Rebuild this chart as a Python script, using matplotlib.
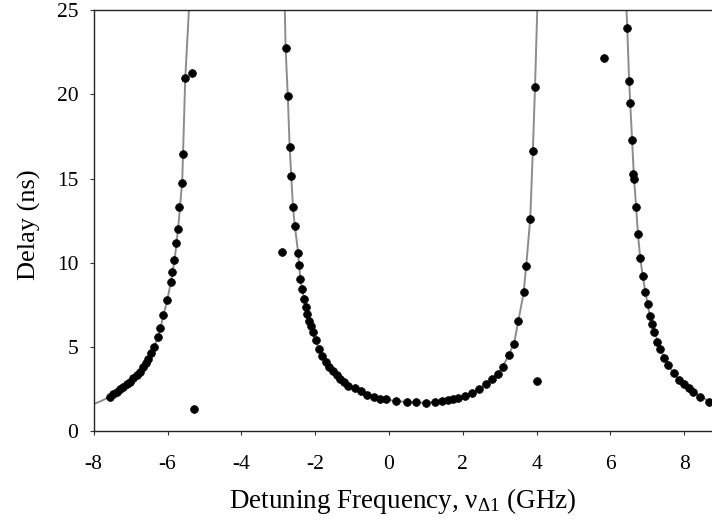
import matplotlib
matplotlib.use("Agg")
import matplotlib.pyplot as plt

plt.rcParams['font.family'] = ['Liberation Serif', 'DejaVu Serif']
plt.rcParams['mathtext.fontset'] = 'custom'
plt.rcParams['mathtext.rm'] = 'Liberation Serif'
plt.rcParams['mathtext.it'] = 'Liberation Serif:italic'
plt.rcParams['mathtext.default'] = 'rm'

# Measured delay points (GHz, ns)
meas_x = [-7.56, -7.47, -7.38, -7.29, -7.20, -7.11, -7.02, -6.93, -6.84, -6.75,
          -6.66, -6.58, -6.52, -6.45, -6.36, -6.27, -6.20, -6.11, -6.02, -5.91,
          -5.89, -5.82, -5.77, -5.72, -5.69, -5.60, -5.57, -5.52, -5.34, -5.28,
          -2.91, -2.80, -2.74, -2.69, -2.64, -2.60, -2.55, -2.46, -2.44, -2.40,
          -2.36, -2.31, -2.26, -2.21, -2.17, -2.12, -2.07, -1.98, -1.89, -1.81,
          -1.71, -1.62, -1.52, -1.42, -1.32, -1.22, -1.11, -0.93, -0.76, -0.59,
          -0.40, -0.24, -0.08, 0.20, 0.49, 0.74, 1.01, 1.24, 1.43, 1.61,
          1.75, 1.88, 2.06, 2.24, 2.44, 2.64, 2.80, 2.96, 3.08, 3.25,
          3.38, 3.51, 3.65, 3.72, 3.83, 3.91, 3.96, 4.02,
          5.82, 6.46, 6.51, 6.53, 6.59, 6.62, 6.64, 6.71, 6.75, 6.81,
          6.88, 6.95, 7.01, 7.07, 7.14, 7.19, 7.27, 7.36, 7.46, 7.56,
          7.73, 7.87, 8.00, 8.13, 8.25, 8.43, 8.68]
meas_y = [2.04, 2.20, 2.33, 2.47, 2.63, 2.77, 2.93, 3.13, 3.33, 3.52,
          3.78, 4.02, 4.26, 4.61, 5.01, 5.56, 6.10, 6.89, 7.78, 8.83,
          9.42, 10.15, 11.15, 11.98, 13.32, 14.74, 16.49, 20.98, 21.28, 1.29,
          10.65, 22.76, 19.89, 16.86, 15.16, 13.34, 12.21, 10.59, 9.86, 9.04,
          8.45, 7.86, 7.38, 6.93, 6.55, 6.25, 5.90, 5.39, 4.85, 4.45,
          4.12, 3.82, 3.56, 3.31, 3.09, 2.89, 2.69, 2.54, 2.36, 2.16,
          2.04, 1.90, 1.88, 1.78, 1.72, 1.70, 1.68, 1.74, 1.78, 1.84,
          1.90, 1.98, 2.08, 2.24, 2.48, 2.77, 3.09, 3.38, 3.82, 4.50,
          5.18, 6.51, 8.25, 9.80, 12.59, 16.63, 20.45, 2.97,
          22.17, 23.95, 20.80, 19.50, 17.28, 15.26, 15.00, 13.32, 11.70, 10.26,
          9.20, 8.27, 7.54, 6.85, 6.34, 5.90, 5.30, 4.87, 4.32, 3.92,
          3.43, 3.03, 2.79, 2.57, 2.32, 2.04, 1.74]

# Fitted curve (three branches)
fit1_x = [-8.0, -7.8, -7.56, -7.3, -7.0, -6.8, -6.6, -6.4, -6.25, -6.1,
          -6.0, -5.9, -5.8, -5.7, -5.6, -5.52, -5.42]
fit1_y = [1.60, 1.78, 2.04, 2.45, 2.95, 3.40, 3.95, 4.80, 5.60, 6.95,
          7.85, 8.95, 10.3, 12.3, 14.9, 20.9, 25.0]
fit2_x = [-2.82, -2.80, -2.74, -2.69, -2.60, -2.55, -2.46, -2.40, -2.30, -2.20,
          -2.10, -2.00, -1.80, -1.60, -1.40, -1.20, -1.00, -0.80, -0.60, -0.40,
          -0.20, 0.00, 0.20, 0.50, 1.00, 1.40, 1.80, 2.10, 2.40, 2.70,
          3.00, 3.25, 3.40, 3.50, 3.65, 3.72, 3.83, 3.90, 3.96, 4.02]
fit2_y = [25.0, 22.8, 19.9, 16.9, 13.3, 12.2, 10.6, 9.0, 7.85, 6.9,
          6.1, 5.45, 4.45, 3.78, 3.28, 2.86, 2.60, 2.40, 2.16, 2.04,
          1.90, 1.84, 1.78, 1.72, 1.68, 1.76, 1.94, 2.10, 2.42, 2.90,
          3.50, 4.50, 5.30, 6.45, 8.20, 9.80, 12.6, 16.6, 20.45, 25.0]
fit3_x = [6.44, 6.46, 6.51, 6.59, 6.64, 6.70, 6.75, 6.81, 6.88, 6.95,
          7.07, 7.20, 7.35, 7.55, 7.80, 8.00, 8.25, 8.50, 8.76]
fit3_y = [25.0, 23.95, 20.8, 17.3, 15.1, 13.3, 11.7, 10.3, 9.2, 8.27,
          6.85, 5.9, 4.87, 3.95, 3.2, 2.79, 2.32, 1.98, 1.68]

x_ticks = [-8, -6, -4, -2, 0, 2, 4, 6, 8]
y_ticks = [0, 5, 10, 15, 20, 25]

W, H = 712, 522
fig = plt.figure(figsize=(W / 100, H / 100), dpi=100)
left, right, top, bottom = 93.7, 712, 10.3, 431
ax = fig.add_axes([left / W, (H - bottom) / H, (right - left) / W, (bottom - top) / H])

line_color = '#8c8c8c'
for fx, fy in [(fit1_x, fit1_y), (fit2_x, fit2_y), (fit3_x, fit3_y)]:
    ax.plot(fx, fy, color=line_color, lw=1.4, zorder=2, clip_on=True)

ax.plot(meas_x, meas_y, 'o', color='black', ms=5.6, mec='black', mew=0.5,
        zorder=3, clip_on=True)

ax.set_xlim(-8, -8 + (right - left) / 36.9)
ax.set_ylim(0, 25)
ax.set_xticks(x_ticks)
ax.set_yticks(y_ticks)
ax.set_xticklabels([str(v) for v in x_ticks])
ax.set_yticklabels([str(v) for v in y_ticks])

for s in ['left', 'bottom', 'top']:
    ax.spines[s].set_color('#222222')
    ax.spines[s].set_linewidth(1.0)
ax.spines['right'].set_visible(False)

ax.tick_params(axis='both', direction='out', length=3, width=0.8, color='#333333',
               labelsize=15.5)
ax.tick_params(axis='y', pad=8)
ax.tick_params(axis='x', pad=14)

ax.set_xlabel('Detuning Frequency, ν$_{\\Delta1}$ (GHz)', fontsize=19.5)
ax.set_ylabel('Delay (ns)', fontsize=19)
ax.xaxis.set_label_coords(0.5, -0.131)
ax.yaxis.set_label_coords(-0.085, 0.49)

fig.savefig('out.png', dpi=100)
